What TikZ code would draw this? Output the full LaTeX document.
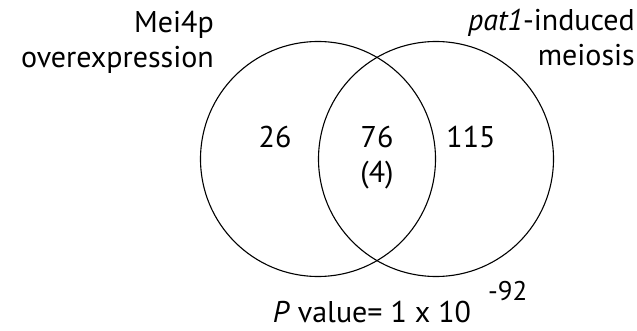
\documentclass[tikz,border=0pt]{standalone}
\usepackage{fontspec}
\setmainfont{PT Sans}
\usetikzlibrary{positioning}

\begin{document}
\begin{tikzpicture}[x=1pt, y=-1pt,
    venn/.style={draw, circle, line width=1.1pt, minimum size=235pt, inner sep=0pt},
    setlabel/.style={inner sep=0pt, align=right, font=\fontsize{30}{35}\selectfont},
    count/.style={inner sep=0pt, anchor=base, font=\fontsize{30}{35}\selectfont}]
  \useasboundingbox (0,0) rectangle (637,331);

  % the two sets
  \node[venn] (mei4p) at (318,159) {};
  \node[venn] (pat1) at (436,159) {};

  % set names
  \node[setlabel, anchor=north east] (mei4plabel) at (214,11) {Mei4p\\overexpression};
  \node[setlabel, anchor=north east] (pat1label) at (635,9) {\textit{pat1}-induced\\meiosis};

  % counts
  \node[count] (onlymei) at (275,148) {26};
  \node[count] (both) at (377,148) {76};
  \node[count, below=35pt of both.base, anchor=base] (bothsub) {(4)};
  \node[count] (onlypat) at (471,148) {115};

  % p value
  \node[count] (pvalue) at (372,322) {\textit{P} value= 1 x 10};
  \node[count, anchor=base west, font=\fontsize{27}{32}\selectfont] (pexp) at (488,300) {-92};
\end{tikzpicture}
\end{document}
